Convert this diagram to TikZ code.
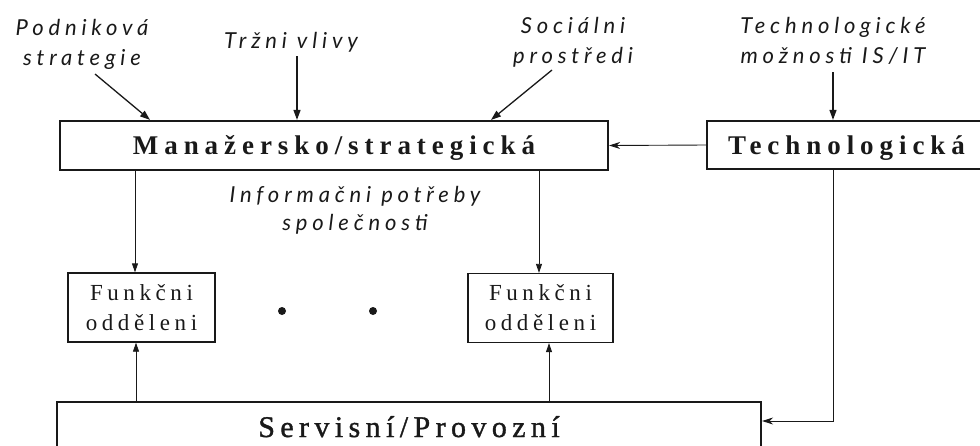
\documentclass[tikz,border=0pt]{standalone}
\usepackage{fontspec}
\setmainfont{Liberation Serif}
\newfontfamily\headfont[LetterSpace=22]{Liberation Serif}
\newfontfamily\servfont[LetterSpace=18,FakeBold=1.2]{Liberation Serif}
\newfontfamily\deptfont[LetterSpace=20]{Liberation Serif}
\newfontfamily\notefont[LetterSpace=22]{Lato}
\usetikzlibrary{arrows.meta}
\definecolor{ink}{gray}{0.1}

\begin{document}
\begin{tikzpicture}[x=1pt,y=-1pt,
  every node/.style={text=ink},
  mainbox/.style={draw=ink, line width=2.2pt, inner sep=0pt},
  deptbox/.style={draw=ink, line width=1.3pt, inner sep=0pt,
    minimum width=147pt, minimum height=69pt, align=center,
    font=\deptfont\fontsize{23}{30}\selectfont},
  headtext/.style={font=\headfont\bfseries\fontsize{27}{30}\selectfont,
    text height=18pt, text depth=0pt},
  note/.style={font=\notefont\itshape\fontsize{22}{30}\selectfont,
    align=center, anchor=base, inner sep=0pt},
  dot/.style={circle, fill=ink, inner sep=0pt, minimum size=8pt},
  link/.style={draw=ink, line width=0.8pt,
    -{Triangle[length=9pt, width=6pt]}},
  feed/.style={draw=ink, line width=0.9pt,
    -{Stealth[length=11pt, width=7pt]}},
  influence/.style={draw=ink, line width=1.3pt,
    -{Triangle[length=10pt, width=7pt]}}]

\useasboundingbox (0,0) rectangle (980,445);
\clip (0,0) rectangle (980,445);

% main layers
\node[mainbox, headtext, minimum width=548pt, minimum height=49pt]
  (man) at (334,145.5) {Manažersko/strategická};
\node[mainbox, headtext, minimum width=279pt, minimum height=48pt]
  (tech) at (846.5,145) {Technologická};
\node[mainbox, font=\servfont\fontsize{30}{32}\selectfont,
  text height=21pt, text depth=9pt,
  minimum width=704pt, minimum height=58pt]
  (serv) at (409,431) {Servisní/Provozní};

% functional departments
\node[deptbox] (fl) at (141.5,307.5) {Funkčni\\odděleni};
\node[deptbox, minimum width=145pt] (fr) at (540.5,308) {Funkčni\\odděleni};
\node[dot] (dotA) at (282,311) {};
\node[dot] (dotB) at (373,311) {};

% external influences (multi-line notes are placed by their last baseline)
\node[note] (pod) at (82,65) {Podniková\\strategie};
\node[note] (trh) at (291,48) {Tržni vlivy};
\node[note] (soc) at (573,63) {Sociálni\\prostředi};
\node[note] (opt) at (833,63) {Technologické\\možnosti IS/IT};
\node[note, font=\notefont\itshape\fontsize{22}{28}\selectfont]
  (info) at (355,230) {Informačni potřeby\\společnosti};

\coordinate (podTail) at (95,74);
\coordinate (trhTail) at (297,56);
\coordinate (socTail) at (552,70);
\coordinate (optTail) at (833,72);

\draw[influence] (podTail) -- (man.north -| 150,0);
\draw[influence] (trhTail) -- (man.north -| 297,0);
\draw[influence] (socTail) -- (man.north -| 491,0);
\draw[influence] (optTail) -- (tech.north -| 833,0);

% information flows
\draw[feed] (tech.west) -- (man.east);
\draw[link] (man.south -| 135,0) -- (fl.north -| 135,0);
\draw[link] (man.south -| 539,0) -- (fr.north -| 539,0);
\draw[link] (serv.north -| 136,0) -- (fl.south -| 136,0);
\draw[link] (serv.north -| 549,0) -- (fr.south -| 549,0);
\draw[feed] (tech.south -| 833,0) |- (serv.east |- 0,421);
\end{tikzpicture}
\end{document}
